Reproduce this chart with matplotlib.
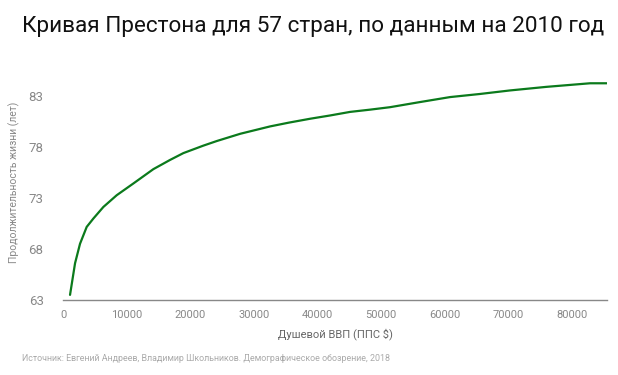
import numpy as np
import matplotlib.pyplot as plt

plt.rcParams['font.family'] = ['Roboto', 'DejaVu Sans']

# Preston curve
gdp = [1100, 1890, 2670, 3720, 4770, 6340, 8440, 11060, 14200, 16820,
       18920, 22060, 24170, 27860, 32550, 35500, 38840, 41980, 45130,
       48270, 51400, 56000, 60850, 65500, 70280, 76000, 82860, 85480]
life = [63.5, 66.6, 68.5, 70.15, 70.97, 72.1, 73.25, 74.4, 75.8, 76.7,
        77.37, 78.1, 78.55, 79.26, 79.98, 80.35, 80.73, 81.05, 81.4,
        81.62, 81.86, 82.35, 82.85, 83.15, 83.5, 83.85, 84.2, 84.2]

xticks = [0, 10000, 20000, 30000, 40000, 50000, 60000, 70000, 80000]
yticks = [63, 68, 73, 78, 83]

fig = plt.figure(figsize=(6.18, 3.75), dpi=100)
ax = fig.add_axes([0.102, 0.2, 0.88, 0.627])

ax.plot(gdp, life, color='#0b7a1c', linewidth=1.6,
        solid_capstyle='round', solid_joinstyle='round')

ax.set_xlim(0, 85500)
ax.set_ylim(63, 86)
ax.set_xticks(xticks)
ax.set_yticks(yticks)
ax.set_xticklabels([str(t) for t in xticks])
ax.set_yticklabels([str(t) for t in yticks])

for s in ['top', 'right', 'left']:
    ax.spines[s].set_visible(False)
ax.spines['bottom'].set_color('#888888')
ax.spines['bottom'].set_linewidth(1)
ax.tick_params(axis='both', length=0, colors='#888888')
ax.tick_params(axis='x', labelsize=8, pad=7)
ax.tick_params(axis='y', labelsize=9.5, pad=14)

ax.set_xlabel('Душевой ВВП (ППС $)', fontsize=8, color='#666666', labelpad=6)
ax.set_ylabel('Продолжительность жизни (лет)', fontsize=7.5, color='#888888', labelpad=6)

fig.text(0.036, 0.93, 'Кривая Престона для 57 стран, по данным на 2010 год',
         fontsize=16.2, color='#111111', va='center')
fig.text(0.036, 0.045, 'Источник: Евгений Андреев, Владимир Школьников. Демографическое обозрение, 2018',
         fontsize=6.4, color='#aaaaaa', va='center')

fig.savefig('out.png', dpi=100)
